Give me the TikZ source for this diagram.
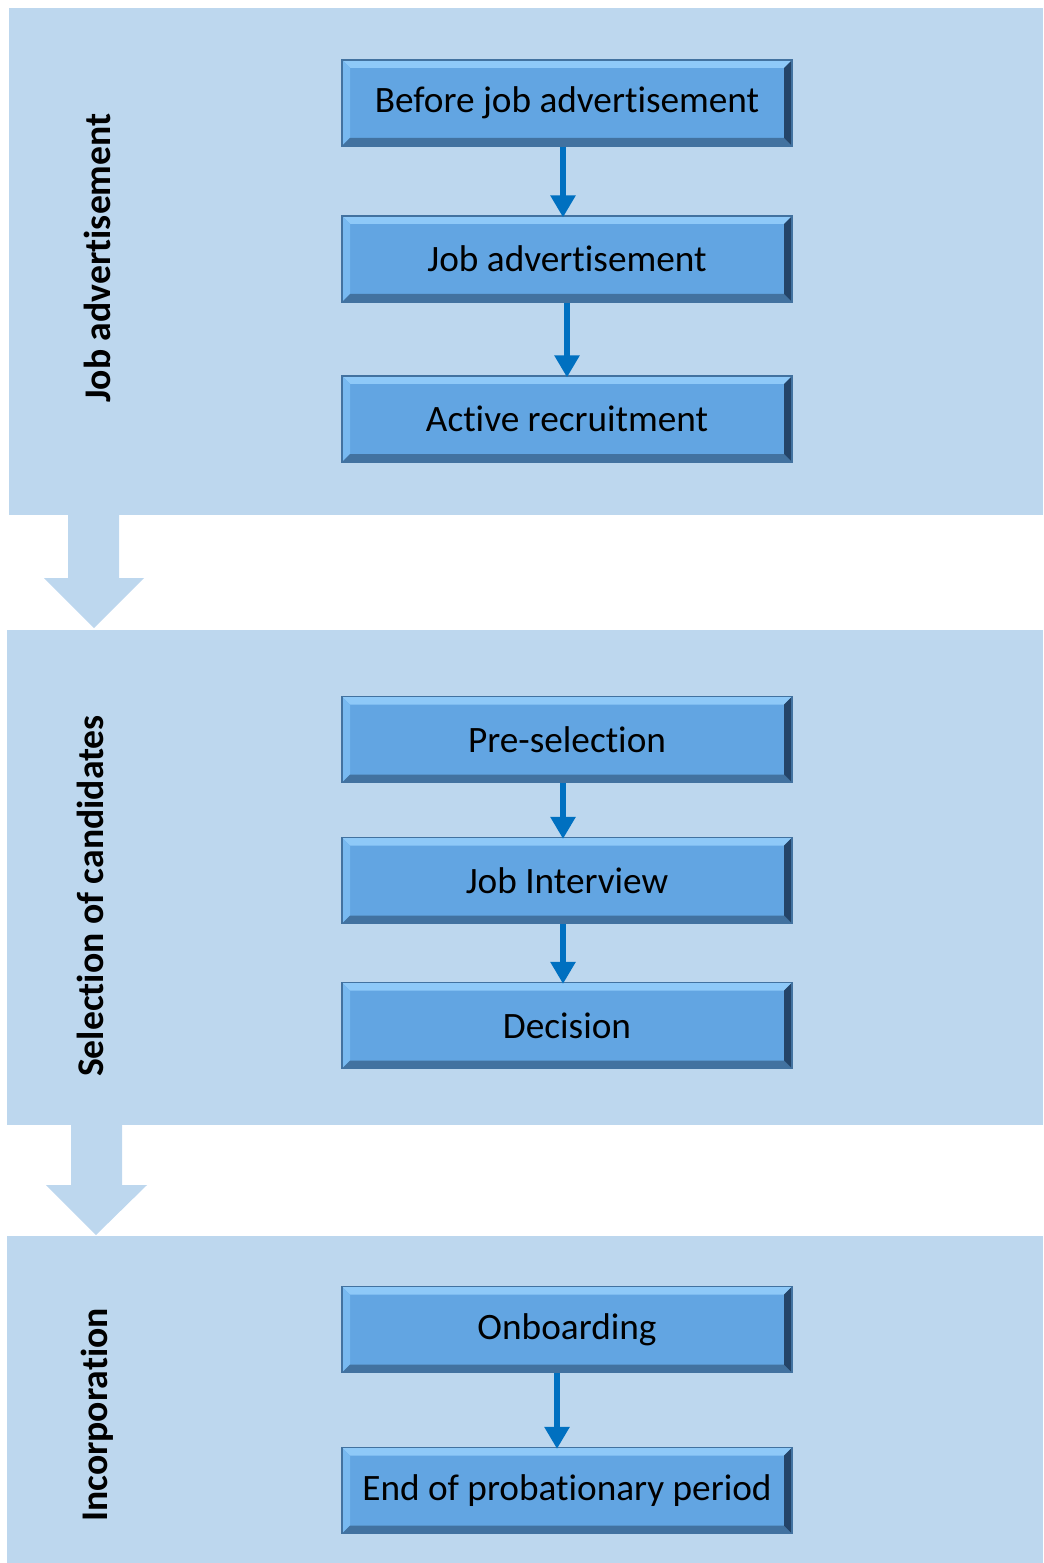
\documentclass[tikz,border=0pt]{standalone}
\usepackage{fontspec}
\setmainfont{Carlito}[Ligatures=NoCommon]
\usetikzlibrary{arrows.meta}
\definecolor{panelblue}{RGB}{189,215,238}
\definecolor{boxblue}{RGB}{98,165,226}
\definecolor{bevlight}{RGB}{142,201,248}
\definecolor{bevside}{RGB}{120,185,240}
\definecolor{bevdark}{RGB}{66,114,160}
\definecolor{bevshade}{RGB}{36,68,104}
\definecolor{flowblue}{RGB}{0,112,192}
\tikzset{
  panel/.style={fill=panelblue,draw=none,anchor=north west,inner sep=0pt},
  stage/.style={fill=boxblue,draw=bevdark,line width=0.3mm,minimum width=112.5mm,minimum height=21.5mm,
    inner sep=0pt,font=\fontsize{26.5}{31}\selectfont,
    path picture={
      \fill[bevlight] (path picture bounding box.north west) -- (path picture bounding box.north east)
        -- ([xshift=-2mm,yshift=-2mm]path picture bounding box.north east) -- ([xshift=2mm,yshift=-2mm]path picture bounding box.north west) -- cycle;
      \fill[bevside] (path picture bounding box.north west) -- ([xshift=2mm,yshift=-2mm]path picture bounding box.north west)
        -- ([xshift=2mm,yshift=2mm]path picture bounding box.south west) -- (path picture bounding box.south west) -- cycle;
      \fill[bevdark] (path picture bounding box.south west) -- (path picture bounding box.south east)
        -- ([xshift=-2mm,yshift=2mm]path picture bounding box.south east) -- ([xshift=2mm,yshift=2mm]path picture bounding box.south west) -- cycle;
      \fill[bevshade] (path picture bounding box.north east) -- ([xshift=-2mm,yshift=-2mm]path picture bounding box.north east)
        -- ([xshift=-2mm,yshift=2mm]path picture bounding box.south east) -- (path picture bounding box.south east) -- cycle;
    }},
  phase/.style={rotate=90,font=\bfseries\fontsize{26.8}{31}\selectfont},
  flow/.style={draw=flowblue,line width=1.5mm,-{Triangle[width=6mm,length=5.5mm]},shorten >=-0.5mm},
  bigarrow/.style={fill=panelblue,draw=none}
}
\begin{document}
\begin{tikzpicture}[x=0.25mm,y=-0.25mm]
\useasboundingbox (0,0) rectangle (1043,1563);
% phases
\node[panel,minimum width=258.5mm,minimum height=126.75mm] (adv) at (9,8) {};
\node[panel,minimum width=259mm,minimum height=123.75mm] (sel) at (7,630) {};
\node[panel,minimum width=259mm,minimum height=81.75mm] (inc) at (7,1236) {};
\fill[bigarrow] (68,514) -- (119,514) -- (119,578) -- (144,578) -- (94,628) -- (44,578) -- (68,578) -- cycle;
\fill[bigarrow] (71,1124) -- (122,1124) -- (122,1185) -- (147,1185) -- (96,1235) -- (46,1185) -- (71,1185) -- cycle;
\node[phase] (advlbl) at (97,258) {Job advertisement};
\node[phase] (sellbl) at (90,896) {Selection of candidates};
\node[phase] (inclbl) at (97,1415) {Incorporation};
% steps
\node[stage] (before) at (567,103) {Before job advertisement};
\node[stage] (jobad) at (567,259) {Job advertisement};
\node[stage] (active) at (567,419) {Active recruitment};
\node[stage] (presel) at (567,739.5) {Pre-selection};
\node[stage] (interview) at (567,880.5) {Job Interview};
\node[stage] (decision) at (567,1025.5) {Decision};
\node[stage] (onboard) at (567,1329.5) {Onboarding};
\node[stage] (probation) at (567,1490.5) {End of probationary period};
\draw[flow] ([xshift=-1mm]before.south) -- ([xshift=-1mm]jobad.north);
\draw[flow] (jobad.south) -- (active.north);
\draw[flow] ([xshift=-1mm]presel.south) -- ([xshift=-1mm]interview.north);
\draw[flow] ([xshift=-1mm]interview.south) -- ([xshift=-1mm]decision.north);
\draw[flow] ([xshift=-2.5mm]onboard.south) -- ([xshift=-2.5mm]probation.north);
\end{tikzpicture}
\end{document}
